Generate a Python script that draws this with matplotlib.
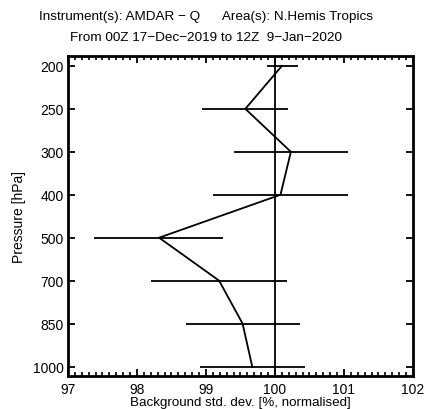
import numpy as np
import matplotlib.pyplot as plt
from matplotlib.ticker import MultipleLocator

plt.rcParams['font.family'] = ['Liberation Sans', 'DejaVu Sans']

# Pressure levels (hPa), plotted on evenly spaced rows
levels = ['200', '250', '300', '400', '500', '700', '850', '1000']
# Normalised background std. dev. (%) and spread bounds
values = [100.10, 99.57, 100.23, 100.08, 98.32, 99.19, 99.53, 99.67]
lower = [99.89, 98.94, 99.41, 99.10, 97.38, 98.20, 98.71, 98.92]
upper = [100.33, 100.19, 101.06, 101.06, 99.25, 100.17, 100.36, 100.43]

fig = plt.figure(figsize=(4.24, 4.10), dpi=100)
ax = fig.add_axes([68 / 424, 1 - 377 / 410, 345 / 424, 320 / 410])

y = np.arange(len(levels))
ax.plot(values, y, color='black', lw=1.3)
ax.hlines(y, lower, upper, color='black', lw=1.3)
ax.axvline(100, color='black', lw=1.3)

ax.set_xlim(97, 102)
ax.set_ylim(len(levels) - 0.78, -0.23)
ax.set_yticks(y)
ax.set_yticklabels(levels)
ax.xaxis.set_major_locator(MultipleLocator(1))
ax.xaxis.set_minor_locator(MultipleLocator(0.1))

ax.tick_params(axis='x', which='major', direction='in', top=True, length=5,
               width=1.3, labelsize=10, pad=4)
ax.tick_params(axis='x', which='minor', direction='in', top=True, length=3, width=1.2)
ax.tick_params(axis='y', which='major', direction='in', right=True, length=5,
               width=1.3, labelsize=10, pad=3)
for s in ax.spines.values():
    s.set_linewidth(2)

ax.set_ylabel('Pressure [hPa]', fontsize=10, labelpad=5)
ax.set_xlabel('Background std. dev. [%, normalised]', fontsize=9.6, labelpad=0)

fig.text(206 / 424, 1 - 17 / 410,
         'Instrument(s): AMDAR \u2212 Q      Area(s): N.Hemis Tropics',
         ha='center', va='center', fontsize=9.7)
fig.text(206 / 424, 1 - 38 / 410,
         'From 00Z 17\u2212Dec\u22122019 to 12Z  9\u2212Jan\u22122020',
         ha='center', va='center', fontsize=9.7)

fig.savefig('out.png', dpi=100)
